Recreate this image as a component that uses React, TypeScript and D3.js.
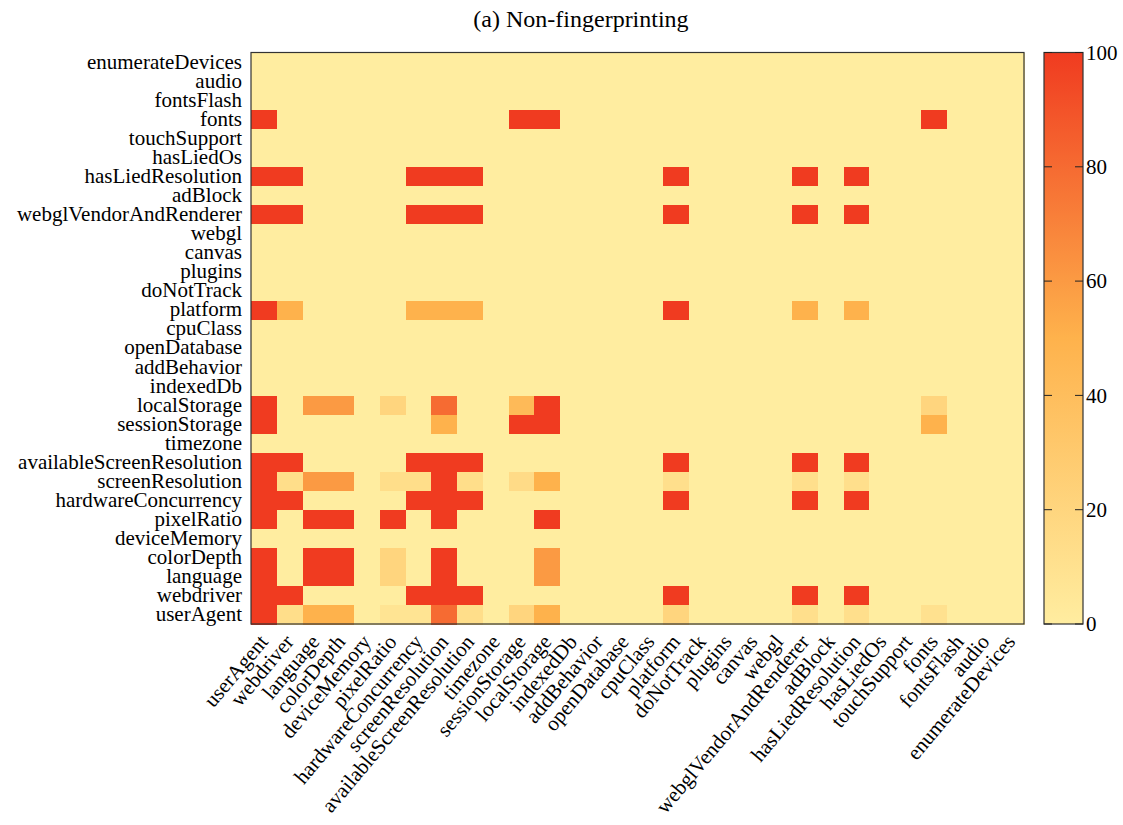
import * as d3 from "d3";
import { useEffect, useRef } from "react";

// feature names, same order on both axes (first one sits at bottom / left)
const features = [
	"userAgent",
	"webdriver",
	"language",
	"colorDepth",
	"deviceMemory",
	"pixelRatio",
	"hardwareConcurrency",
	"screenResolution",
	"availableScreenResolution",
	"timezone",
	"sessionStorage",
	"localStorage",
	"indexedDb",
	"addBehavior",
	"openDatabase",
	"cpuClass",
	"platform",
	"doNotTrack",
	"plugins",
	"canvas",
	"webgl",
	"webglVendorAndRenderer",
	"adBlock",
	"hasLiedResolution",
	"hasLiedOs",
	"touchSupport",
	"fonts",
	"fontsFlash",
	"audio",
	"enumerateDevices",
];

// cellValues[row][col], row = y feature, col = x feature (percent)
const cellValues: number[][] = [
	[100, 13, 50, 50, 0, 8, 8, 80, 13, 0, 20, 50, 0, 0, 0, 0, 20, 0, 0, 0, 0, 12, 0, 12, 0, 0, 10, 0, 0, 0],
	[100, 100, 0, 0, 0, 0, 100, 100, 100, 0, 0, 0, 0, 0, 0, 0, 100, 0, 0, 0, 0, 100, 0, 100, 0, 0, 0, 0, 0, 0],
	[100, 0, 100, 100, 0, 20, 0, 100, 0, 0, 0, 60, 0, 0, 0, 0, 0, 0, 0, 0, 0, 0, 0, 0, 0, 0, 0, 0, 0, 0],
	[100, 0, 100, 100, 0, 20, 0, 100, 0, 0, 0, 60, 0, 0, 0, 0, 0, 0, 0, 0, 0, 0, 0, 0, 0, 0, 0, 0, 0, 0],
	[0, 0, 0, 0, 0, 0, 0, 0, 0, 0, 0, 0, 0, 0, 0, 0, 0, 0, 0, 0, 0, 0, 0, 0, 0, 0, 0, 0, 0, 0],
	[100, 0, 100, 100, 0, 100, 0, 100, 0, 0, 0, 100, 0, 0, 0, 0, 0, 0, 0, 0, 0, 0, 0, 0, 0, 0, 0, 0, 0, 0],
	[100, 100, 0, 0, 0, 0, 100, 100, 100, 0, 0, 0, 0, 0, 0, 0, 100, 0, 0, 0, 0, 100, 0, 100, 0, 0, 0, 0, 0, 0],
	[100, 13, 60, 60, 0, 13, 13, 100, 13, 0, 15, 50, 0, 0, 0, 0, 12, 0, 0, 0, 0, 12, 0, 12, 0, 0, 0, 0, 0, 0],
	[100, 100, 0, 0, 0, 0, 100, 100, 100, 0, 0, 0, 0, 0, 0, 0, 100, 0, 0, 0, 0, 100, 0, 100, 0, 0, 0, 0, 0, 0],
	[0, 0, 0, 0, 0, 0, 0, 0, 0, 0, 0, 0, 0, 0, 0, 0, 0, 0, 0, 0, 0, 0, 0, 0, 0, 0, 0, 0, 0, 0],
	[100, 0, 0, 0, 0, 0, 0, 50, 0, 0, 100, 100, 0, 0, 0, 0, 0, 0, 0, 0, 0, 0, 0, 0, 0, 0, 50, 0, 0, 0],
	[100, 0, 60, 60, 0, 20, 0, 80, 0, 0, 43, 100, 0, 0, 0, 0, 0, 0, 0, 0, 0, 0, 0, 0, 0, 0, 20, 0, 0, 0],
	[0, 0, 0, 0, 0, 0, 0, 0, 0, 0, 0, 0, 0, 0, 0, 0, 0, 0, 0, 0, 0, 0, 0, 0, 0, 0, 0, 0, 0, 0],
	[0, 0, 0, 0, 0, 0, 0, 0, 0, 0, 0, 0, 0, 0, 0, 0, 0, 0, 0, 0, 0, 0, 0, 0, 0, 0, 0, 0, 0, 0],
	[0, 0, 0, 0, 0, 0, 0, 0, 0, 0, 0, 0, 0, 0, 0, 0, 0, 0, 0, 0, 0, 0, 0, 0, 0, 0, 0, 0, 0, 0],
	[0, 0, 0, 0, 0, 0, 0, 0, 0, 0, 0, 0, 0, 0, 0, 0, 0, 0, 0, 0, 0, 0, 0, 0, 0, 0, 0, 0, 0, 0],
	[100, 50, 0, 0, 0, 0, 50, 50, 50, 0, 0, 0, 0, 0, 0, 0, 100, 0, 0, 0, 0, 50, 0, 50, 0, 0, 0, 0, 0, 0],
	[0, 0, 0, 0, 0, 0, 0, 0, 0, 0, 0, 0, 0, 0, 0, 0, 0, 0, 0, 0, 0, 0, 0, 0, 0, 0, 0, 0, 0, 0],
	[0, 0, 0, 0, 0, 0, 0, 0, 0, 0, 0, 0, 0, 0, 0, 0, 0, 0, 0, 0, 0, 0, 0, 0, 0, 0, 0, 0, 0, 0],
	[0, 0, 0, 0, 0, 0, 0, 0, 0, 0, 0, 0, 0, 0, 0, 0, 0, 0, 0, 0, 0, 0, 0, 0, 0, 0, 0, 0, 0, 0],
	[0, 0, 0, 0, 0, 0, 0, 0, 0, 0, 0, 0, 0, 0, 0, 0, 0, 0, 0, 0, 0, 0, 0, 0, 0, 0, 0, 0, 0, 0],
	[100, 100, 0, 0, 0, 0, 100, 100, 100, 0, 0, 0, 0, 0, 0, 0, 100, 0, 0, 0, 0, 100, 0, 100, 0, 0, 0, 0, 0, 0],
	[0, 0, 0, 0, 0, 0, 0, 0, 0, 0, 0, 0, 0, 0, 0, 0, 0, 0, 0, 0, 0, 0, 0, 0, 0, 0, 0, 0, 0, 0],
	[100, 100, 0, 0, 0, 0, 100, 100, 100, 0, 0, 0, 0, 0, 0, 0, 100, 0, 0, 0, 0, 100, 0, 100, 0, 0, 0, 0, 0, 0],
	[0, 0, 0, 0, 0, 0, 0, 0, 0, 0, 0, 0, 0, 0, 0, 0, 0, 0, 0, 0, 0, 0, 0, 0, 0, 0, 0, 0, 0, 0],
	[0, 0, 0, 0, 0, 0, 0, 0, 0, 0, 0, 0, 0, 0, 0, 0, 0, 0, 0, 0, 0, 0, 0, 0, 0, 0, 0, 0, 0, 0],
	[100, 0, 0, 0, 0, 0, 0, 0, 0, 0, 100, 100, 0, 0, 0, 0, 0, 0, 0, 0, 0, 0, 0, 0, 0, 0, 100, 0, 0, 0],
	[0, 0, 0, 0, 0, 0, 0, 0, 0, 0, 0, 0, 0, 0, 0, 0, 0, 0, 0, 0, 0, 0, 0, 0, 0, 0, 0, 0, 0, 0],
	[0, 0, 0, 0, 0, 0, 0, 0, 0, 0, 0, 0, 0, 0, 0, 0, 0, 0, 0, 0, 0, 0, 0, 0, 0, 0, 0, 0, 0, 0],
	[0, 0, 0, 0, 0, 0, 0, 0, 0, 0, 0, 0, 0, 0, 0, 0, 0, 0, 0, 0, 0, 0, 0, 0, 0, 0, 0, 0, 0, 0],
];

const colorTicks = [0, 20, 40, 60, 80, 100];
const colorStops = ["#ffeda0", "#feb24c", "#f03b20"];
const title = "(a) Non-fingerprinting";

const width = 1123;
const height = 825;
const left = 251;
const right = 1024;
const top = 52.5;
const bottom = 624;
const font = "'Liberation Serif', 'Times New Roman', serif";

function Heatmap() {
	const svgRef = useRef<SVGSVGElement>(null);

	useEffect(() => {
		const svg = d3.select(svgRef.current);
		svg.selectAll("*").remove();

		const x = d3.scaleBand<string>().domain(features).range([left, right]);
		const y = d3.scaleBand<string>().domain(features).range([bottom, top]);
		const color = d3
			.scaleLinear<string>()
			.domain([0, 50, 100])
			.range(colorStops)
			.clamp(true);

		const cells = cellValues.flatMap((row, r) =>
			row.map((v, c) => ({ row: features[r], col: features[c], v }))
		);

		svg.append("g")
			.attr("shape-rendering", "crispEdges")
			.selectAll("rect")
			.data(cells)
			.enter()
			.append("rect")
			.attr("x", (d) => x(d.col)!)
			.attr("y", (d) => y(d.row)!)
			.attr("width", x.bandwidth() + 0.5)
			.attr("height", y.bandwidth() + 0.5)
			.attr("fill", (d) => color(d.v));

		svg.append("rect")
			.attr("x", left)
			.attr("y", top)
			.attr("width", right - left)
			.attr("height", bottom - top)
			.attr("fill", "none")
			.attr("stroke", "#333")
			.attr("stroke-width", 1.2);

		// y labels
		svg.append("g")
			.selectAll("text")
			.data(features)
			.enter()
			.append("text")
			.attr("x", left - 9)
			.attr("y", (d) => y(d)! + y.bandwidth() / 2)
			.attr("dy", "0.32em")
			.attr("text-anchor", "end")
			.style("font-family", font)
			.style("font-size", "21px")
			.text((d) => d);

		// x labels, rotated
		svg.append("g")
			.selectAll("text")
			.data(features)
			.enter()
			.append("text")
			.attr(
				"transform",
				(d) =>
					"translate(" + (x(d)! + x.bandwidth() / 2) + "," + 638 + ") rotate(-50)"
			)
			.attr("dy", "0.32em")
			.attr("text-anchor", "end")
			.style("font-family", font)
			.style("font-size", "21px")
			.text((d) => d);

		// colour bar
		const cbLeft = 1044;
		const cbRight = 1083;
		const cbScale = d3.scaleLinear().domain([0, 100]).range([bottom, top]);
		const grad = svg
			.append("defs")
			.append("linearGradient")
			.attr("id", "cb-grad")
			.attr("x1", 0)
			.attr("y1", 1)
			.attr("x2", 0)
			.attr("y2", 0);
		colorStops.forEach((c, i) => {
			grad.append("stop")
				.attr("offset", i / (colorStops.length - 1))
				.attr("stop-color", c);
		});
		svg.append("rect")
			.attr("x", cbLeft)
			.attr("y", top)
			.attr("width", cbRight - cbLeft)
			.attr("height", bottom - top)
			.attr("fill", "url(#cb-grad)")
			.attr("stroke", "#333")
			.attr("stroke-width", 1.2);

		const tg = svg.append("g").selectAll("g").data(colorTicks).enter().append("g");
		tg.append("line")
			.attr("x1", cbLeft)
			.attr("x2", cbLeft + 8)
			.attr("y1", (d) => cbScale(d))
			.attr("y2", (d) => cbScale(d))
			.attr("stroke", "#222");
		tg.append("line")
			.attr("x1", cbRight - 8)
			.attr("x2", cbRight)
			.attr("y1", (d) => cbScale(d))
			.attr("y2", (d) => cbScale(d))
			.attr("stroke", "#222");
		tg.append("text")
			.attr("x", cbRight + 3)
			.attr("y", (d) => cbScale(d))
			.attr("dy", "0.35em")
			.style("font-family", font)
			.style("font-size", "21px")
			.text((d) => d);

		svg.append("text")
			.attr("x", 581)
			.attr("y", 27)
			.attr("text-anchor", "middle")
			.style("font-family", font)
			.style("font-size", "24px")
			.text(title);
	}, []);

	return (
		<svg
			ref={svgRef}
			width={width}
			height={height}
			style={{ position: "absolute", left: 0, top: 0, background: "white" }}
		/>
	);
}

export default function App() {
	return <Heatmap />;
}
